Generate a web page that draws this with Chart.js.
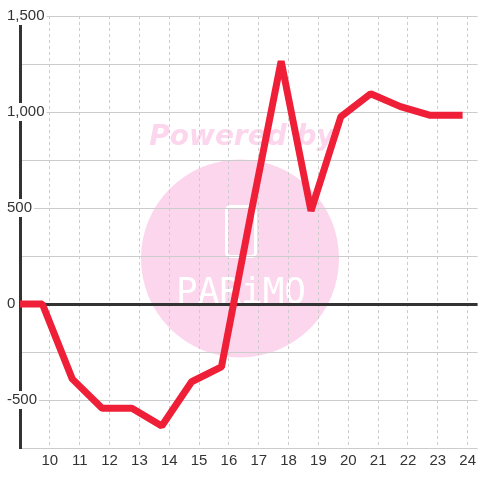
<!DOCTYPE html>
<html>
<head>
<meta charset="utf-8">
<script src="https://cdn.jsdelivr.net/npm/chart.js@4"></script>
<style>
    html, body { margin: 0; padding: 0; background: #fff; }
    #wrap { width: 480px; height: 480px; }
</style>
</head>
<body>
<div id="wrap"><canvas id="chart" width="480" height="480"></canvas></div>
<script>
// hours (x) and values (y)
const hours = [8.9, 9.75, 10.75, 11.75, 12.75, 13.75, 14.75, 15.75, 16.75, 17.75, 18.75, 19.75, 20.75, 21.75, 22.75, 23.83];
const values = [0, 0, -390, -543, -543, -635, -405, -328, 480, 1265, 485, 975, 1095, 1028, 983, 983];
const xTicks = [10, 11, 12, 13, 14, 15, 16, 17, 18, 19, 20, 21, 22, 23, 24];
const yLabelled = [-500, 0, 500, 1000, 1500];

const points = hours.map((h, i) => ({ x: h, y: values[i] }));

// Watermark drawn under the grid
const watermark = {
    id: 'watermark',
    beforeDraw(chart) {
        const c = chart.ctx;
        c.save();
        c.fillStyle = '#fff';
        c.fillRect(0, 0, chart.width, chart.height);

        c.fillStyle = '#fcd6ec';
        c.beginPath();
        c.arc(240, 258.5, 99, 0, Math.PI * 2);
        c.fill();

        c.font = "bold italic 28px 'DejaVu Sans'";
        c.textAlign = 'center';
        c.textBaseline = 'alphabetic';
        c.fillText('Powered by', 242, 145);

        // logo
        c.strokeStyle = '#fff';
        c.lineWidth = 3;
        c.beginPath();
        c.roundRect(226.5, 206.5, 29, 50, 4);
        c.stroke();
        c.fillStyle = '#fff';
        c.font = "36px 'DejaVu Sans Mono'";
        c.fillText('PARiMO', 241, 303);
        c.restore();
    }
};

const ctx = document.getElementById('chart').getContext('2d');
const chart = new Chart(ctx, {
    type: 'line',
    data: {
        datasets: [{
            data: points,
            borderColor: '#ef1f38',
            borderWidth: 7,
            borderJoinStyle: 'bevel',
            pointRadius: 0,
            tension: 0,
            fill: false
        }]
    },
    options: {
        responsive: false,
        animation: false,
        layout: { padding: { top: 16, left: 6, right: 0, bottom: 0 } },
        plugins: {
            legend: { display: false },
            tooltip: { enabled: false }
        },
        scales: {
            x: {
                type: 'linear',
                min: 9,
                max: 24.333,
                afterBuildTicks: function (scale) {
                    scale.ticks = xTicks.map(v => ({ value: v }));
                },
                afterFit: function (scale) { scale.height = 32; },
                border: { display: false, dash: [3, 3] },
                grid: {
                    color: '#cccccc',
                    lineWidth: 1,
                    drawTicks: false
                },
                ticks: {
                    padding: 4,
                    color: '#333',
                    font: { family: "'Liberation Sans', Arial, sans-serif", size: 15 },
                    maxRotation: 0,
                    autoSkip: false
                }
            },
            y: {
                min: -750,
                max: 1500,
                afterFit: function (scale) { scale.width = 14; },
                border: { display: true, color: '#333', width: 3, dash: [] },
                grid: {
                    drawTicks: false,
                    color: c => c.tick && c.tick.value === 0 ? '#333' : '#cccccc',
                    lineWidth: c => c.tick && c.tick.value === 0 ? 3 : 1
                },
                ticks: {
                    stepSize: 250,
                    mirror: true,
                    crossAlign: 'near',
                    padding: -13,
                    color: '#333',
                    font: { family: "'Liberation Sans', Arial, sans-serif", size: 15 },
                    showLabelBackdrop: true,
                    backdropColor: '#fff',
                    backdropPadding: { x: 2, y: 0 },
                    autoSkip: false,
                    callback: function (v) {
                        return yLabelled.includes(v) ? v.toLocaleString('en-US') : '';
                    }
                }
            }
        }
    },
    plugins: [watermark]
});
</script>
</body>
</html>
